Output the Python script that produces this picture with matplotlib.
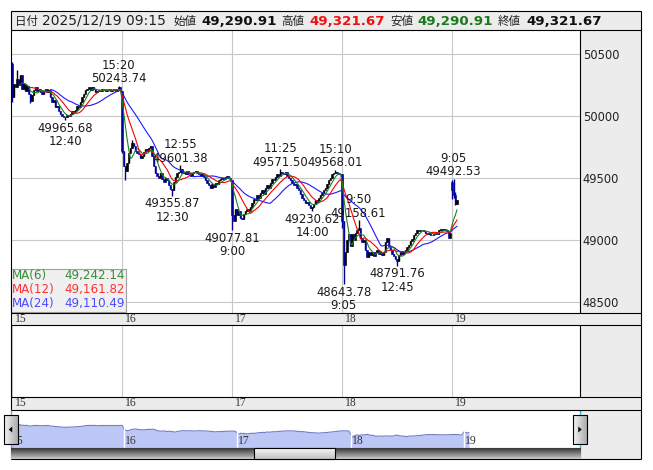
import numpy as np
import pandas as pd
import matplotlib
matplotlib.use('Agg')
import matplotlib.pyplot as plt
from matplotlib.patches import Rectangle, Polygon

W, H = 653, 470
BARS = 66  # 5-minute bars a day: 9:00-11:25 and 12:30-15:25

# ---- data ----
day_labels = ['15', '16', '17', '18', '19']

close_15 = [50150, 50260, 50230, 50300, 50250, 50330, 50220, 50260, 50200, 50240,
            50180, 50120, 50170, 50210, 50230, 50200, 50220, 50190, 50180, 50200,
            50215, 50190, 50210, 50150, 50110, 50130, 50070, 50080, 50040, 50020,
            50000, 49990, 49990, 50010, 50000, 50020, 50040, 50030, 50050, 50080,
            50070, 50110, 50150, 50180, 50210, 50220, 50230, 50210, 50230, 50220,
            50190, 50200, 50210, 50200, 50220, 50210, 50200, 50210, 50220, 50200,
            50210, 50220, 50200, 50220, 50230, 50200]
close_16 = [49720, 49600, 49560, 49620, 49700, 49740, 49780, 49760, 49720, 49700,
            49690, 49660, 49680, 49710, 49730, 49720, 49740, 49760, 49680, 49600,
            49540, 49520, 49500, 49540, 49490, 49470, 49500, 49480, 49440, 49410,
            49400, 49470, 49510, 49540, 49550, 49570, 49540, 49550, 49530, 49560,
            49540, 49520, 49540, 49550, 49560, 49540, 49530, 49520, 49530, 49510,
            49480, 49460, 49440, 49420, 49450, 49430, 49460, 49450, 49480, 49490,
            49500, 49490, 49510, 49520, 49500, 49480]
close_17 = [49200, 49150, 49250, 49200, 49230, 49180, 49170, 49210, 49230, 49250,
            49230, 49270, 49300, 49330, 49320, 49360, 49340, 49380, 49400, 49370,
            49420, 49440, 49420, 49460, 49490, 49480, 49510, 49530, 49520, 49550,
            49540, 49530, 49550, 49520, 49500, 49480, 49460, 49440, 49450, 49420,
            49400, 49370, 49340, 49320, 49300, 49310, 49280, 49260, 49270, 49290,
            49320, 49310, 49340, 49360, 49380, 49400, 49420, 49450, 49480, 49500,
            49530, 49540, 49550, 49540, 49530, 49530]
close_18 = [49150, 48800, 48900, 49000, 49050, 48950, 49050, 49000, 49060, 49080,
            49100, 49020, 48980, 49000, 48920, 48860, 48900, 48880, 48900, 48870,
            48900, 48920, 48890, 48900, 48880, 48900, 48980, 49020, 48950, 48920,
            48890, 48870, 48850, 48830, 48880, 48900, 48890, 48900, 48920, 48940,
            48960, 48990, 49010, 49040, 49060, 49080, 49070, 49080, 49080, 49070,
            49060, 49050, 49060, 49040, 49040, 49050, 49060, 49050, 49080, 49090,
            49080, 49090, 49080, 49070, 49020, 49060]
close_19 = [49400, 49360, 49290.91, 49321.67]
day_open = [50420, 50200, 49480, 49530, 49470]

# extra wicks (nan = none)
wick_day = [15, 15, 15, 16, 16, 16, 18, 19, 19, 19]
wick_bar = [0, 3, 11, 0, 2, 6, 0, 0, 1, 2]
wick_high = [50437, 50370, np.nan, np.nan, np.nan, 49807, np.nan, 49480, np.nan, 49390]
wick_low = [50115, np.nan, 50105, 49700, 49484, np.nan, 49100, 49330, 49340, 49280]

# labelled swing highs / lows
ext_day = [15, 15, 16, 16, 17, 17, 17, 17, 18, 18, 18, 19]
ext_bar = [64, 32, 35, 30, 0, 29, 48, 62, 1, 10, 33, 1]
ext_price = [50243.74, 49965.68, 49601.38, 49355.87, 49077.81, 49571.50,
             49230.62, 49568.01, 48643.78, 49158.61, 48791.76, 49492.53]
ext_time = ['15:20', '12:40', '12:55', '12:30', '9:00', '11:25',
            '14:00', '15:10', '9:05', '9:50', '12:45', '9:05']
ext_kind = ['hi', 'lo', 'hi', 'lo', 'lo', 'hi', 'lo', 'hi', 'lo', 'hi', 'lo', 'hi']

ma_periods = [6, 12, 24]
ma_colors = ['#1f7f1f', '#ff0000', '#1a1aff']
ma_text_colors = ['#3a8a3a', '#ff3333', '#4a4aff']
ma_last = [49242.14, 49161.82, 49110.49]

hdr_date = '2025/12/19 09:15'
hdr_open, hdr_high, hdr_low, hdr_close = 49290.91, 49321.67, 49290.91, 49321.67

price_ticks = [48500, 49000, 49500, 50000, 50500]

# ---- build OHLC ----
closes = np.array(close_15 + close_16 + close_17 + close_18 + close_19, dtype=float)
n = len(closes)
X = np.arange(n)
opens = np.r_[np.nan, closes[:-1]]
for d in range(5):
    opens[d * BARS] = day_open[d]
highs = np.maximum(opens, closes)
lows = np.minimum(opens, closes)
for d, b, wh, wl in zip(wick_day, wick_bar, wick_high, wick_low):
    i = day_labels.index(str(d)) * BARS + b
    if not np.isnan(wh):
        highs[i] = max(highs[i], wh)
    if not np.isnan(wl):
        lows[i] = min(lows[i], wl)
ext_x = []
for d, b, p, k in zip(ext_day, ext_bar, ext_price, ext_kind):
    i = day_labels.index(str(d)) * BARS + b
    ext_x.append(i)
    if k == 'hi':
        highs[i] = max(highs[i], p)
    else:
        lows[i] = min(lows[i], p)

s = pd.Series(closes)
mas = [s.rolling(p).mean().values for p in ma_periods]

# ---- figure ----
fig = plt.figure(figsize=(W / 100, H / 100), dpi=100)


def frect(x0, y0, x1, y1):
    return [x0 / W, 1 - y1 / H, (x1 - x0) / W, (y1 - y0) / H]


bg = fig.add_axes([0, 0, 1, 1], zorder=0)
bg.axis('off')

GRAY = '#ececec'
GRID = '#c8c8c8'
for (x0, y0, x1, y1) in [(10.5, 11, 641, 30), (580, 30, 641, 313), (10.5, 313, 641, 325),
                         (580, 325, 641, 397), (10.5, 397, 641, 410), (580, 410, 641, 459)]:
    bg.add_patch(Rectangle((x0, y0), x1 - x0, y1 - y0, fc=GRAY, ec='none'))
for xb in [12, 122, 232, 342, 452]:
    bg.plot([xb, xb], [325, 397], color=GRID, lw=0.8)
bg.set_xlim(0, W)
bg.set_ylim(H, 0)

# main price panel
PX = 110 / 66
ax = fig.add_axes(frect(10.5, 30, 580, 313), zorder=2)
ax.set_xlim((10.5 - 12) / PX, (580 - 12) / PX)
ypp = 2000 / 248
ax.set_ylim(50500 - (313 - 54) * ypp, 50500 + (54 - 30) * ypp)
for sp in ax.spines.values():
    sp.set_visible(False)
ax.set_xticks([])
ax.yaxis.tick_right()
ax.set_yticks(price_ticks)
ax.set_yticklabels([str(t) for t in price_ticks])
ax.tick_params(axis='y', length=0, pad=2, labelsize=8.3, labelcolor='#222222')
for t in price_ticks:
    ax.axhline(t, color=GRID, lw=0.8, zorder=0)
for d in range(1, 5):
    ax.axvline(d * BARS, color=GRID, lw=0.8, zorder=0)

up = closes >= opens
col = np.where(up, '#000000', '#00009c')
ax.vlines(X, lows, highs, colors=col, lw=1.0, zorder=2)
ax.bar(X, closes - opens, bottom=opens, width=0.8, color=col, edgecolor=col, lw=0.4, zorder=2)
for m, c in zip(mas[::-1], ma_colors[::-1]):
    ax.plot(X, m, color=c, lw=0.8, zorder=3)

for x, p, t, k in zip(ext_x, ext_price, ext_time, ext_kind):
    if k == 'hi':
        ax.annotate(f'{t}\n{p:.2f}', xy=(x, p), xytext=(0, 0.5), textcoords='offset pixels',
                    ha='center', va='bottom', fontsize=8.4, color='#1a1a1a', linespacing=1.05, zorder=4)
    else:
        ax.annotate(f'{p:.2f}\n{t}', xy=(x, p), xytext=(0, -1.5), textcoords='offset pixels',
                    ha='center', va='top', fontsize=8.4, color='#1a1a1a', linespacing=1.05, zorder=4)

# navigator
NPX = 1.715
nav = fig.add_axes(frect(10.5, 410, 580, 448), zorder=2)
nav.set_xlim((10.5 - 11) / NPX, (580 - 11) / NPX)
nav.set_ylim(47400, 52150)
nav.axis('off')
nav.fill_between(X, closes, 47400, color='#bcc7f6', lw=0)
nav.plot(X, closes, color='#6f7ec6', lw=0.8)
for d in range(1, 5):
    nav.axvline(d * BARS, color='white', lw=1.0)

# overlay: frames, labels, controls
ov = fig.add_axes([0, 0, 1, 1], zorder=10)
ov.axis('off')


def line(x0, y0, x1, y1, c='black', lw=0.8):
    ov.plot([x0, x1], [y0, y1], color=c, lw=lw, solid_capstyle='butt')


ov.add_patch(Rectangle((10.5, 11), 630.5, 19, fc='none', ec='black', lw=0.8))
line(10.5, 30, 10.5, 459)
line(641, 30, 641, 459)
for yy in [313, 325, 397, 410, 459]:
    line(10.5, yy, 641, yy)
for (y0, y1) in [(30, 313), (325, 397), (410, 459)]:
    line(580, y0, 580, y1)
line(10.5, 410, 10.5, 448, c='#33bbee')
line(580, 410.5, 580, 448, c='#33bbee')

# header
hdr = [('日付', 14.6, 'cjk', '#222222'), (hdr_date, 41.7, 'n', '#222222'),
       ('始値', 173, 'cjk', '#222222'), (f'{hdr_open:,.2f}', 201, 'b', '#111111'),
       ('高値', 281, 'cjk', '#222222'), (f'{hdr_high:,.2f}', 309, 'b', '#ee1111'),
       ('安値', 390, 'cjk', '#222222'), (f'{hdr_low:,.2f}', 417, 'b', '#1a7a1a'),
       ('終値', 498, 'cjk', '#222222'), (f'{hdr_close:,.2f}', 526, 'b', '#111111')]
for txt, x, kind, c in hdr:
    if kind == 'cjk':
        ov.text(x, 25, txt, fontsize=8.3, family=['Noto Sans CJK JP', 'DejaVu Sans'],
                color=c, va='baseline', ha='left')
    elif kind == 'n':
        ov.text(x, 25, txt, fontsize=10, color=c, va='baseline', ha='left')
    else:
        ov.text(x, 25, txt, fontsize=9.6, fontweight='bold', color=c, va='baseline', ha='left')

# date strips
for d, lab in enumerate(day_labels):
    xb = 12 + d * 110
    for yb in [322, 406.5]:
        ov.text(xb + 2.5, yb, lab, fontsize=8.4, family='Liberation Serif', color='#333333',
                va='baseline', ha='left')
    ov.text(11 + d * BARS * NPX + 1, 444.5, lab, fontsize=8.4, family='Liberation Serif',
            color='#333333', va='baseline', ha='left')

# MA legend box
ov.add_patch(Rectangle((11, 269), 114.5, 43, fc='#f0f0f0', ec='#a0a0a0', lw=0.8))
for r, (p, c, v) in enumerate(zip(ma_periods, ma_text_colors, ma_last)):
    yb = 279 + r * 14.2
    ov.text(11.5, yb, f'MA({p})', fontsize=8.6, color=c, va='baseline', ha='left')
    ov.text(125, yb, f'{v:,.2f}', fontsize=8.6, color=c, va='baseline', ha='right')

# scrollbar
track = np.linspace(0.22, 0.78, 20)[:, None] * np.ones((1, 2))
ov.imshow(np.dstack([track] * 3), extent=(10.5, 580, 459, 448), aspect='auto', zorder=5)
thumb = np.linspace(0.97, 0.76, 20)[:, None] * np.ones((1, 2))
ov.imshow(np.dstack([thumb] * 3), extent=(254, 335, 459, 448), aspect='auto', zorder=6)
ov.add_patch(Rectangle((254, 448), 81, 11, fc='none', ec='black', lw=0.8, zorder=7))
line(10.5, 448, 580, 448)

# navigator buttons
btn = np.ones((2, 1)) * np.linspace(0.95, 0.68, 12)[None, :]
for bx, dirn in [(4, -1), (573, 1)]:
    ov.imshow(np.dstack([btn] * 3), extent=(bx, bx + 13.5, 444, 415), aspect='auto', zorder=8)
    ov.add_patch(Rectangle((bx, 415), 13.5, 29, fc='none', ec='black', lw=0.8, zorder=9))
    cx = bx + 6.75
    ov.add_patch(Polygon([(cx + 2 * dirn, 429.5), (cx - 1.5 * dirn, 426.5), (cx - 1.5 * dirn, 432.5)],
                         closed=True, fc='black', ec='none', zorder=9))

ov.set_xlim(0, W)
ov.set_ylim(H, 0)

fig.savefig('out.png', dpi=100)
